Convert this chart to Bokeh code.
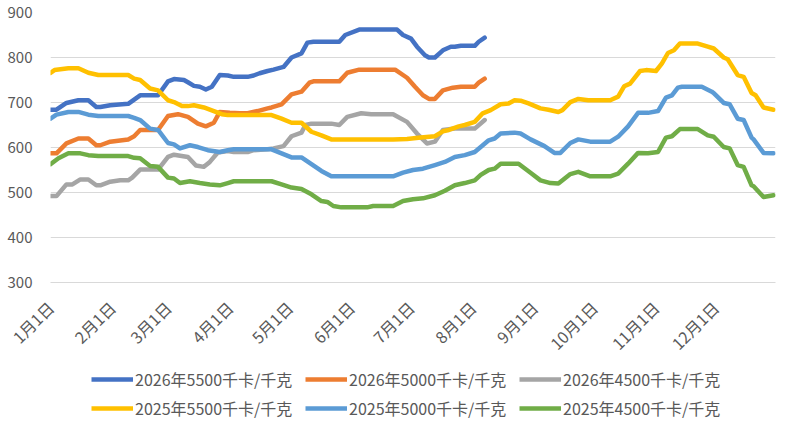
import math
from bokeh.plotting import figure
from bokeh.layouts import column
from bokeh.models import FixedTicker, Legend, LegendItem, Range1d
from bokeh.embed import file_html
from bokeh.resources import INLINE

FONT = "Noto Sans CJK SC"
TEXT_COLOR = "#595959"

# x = day of year (0 = Jan 1)
month_days = [0, 31, 59, 90, 120, 151, 181, 212, 243, 273, 304, 334]
month_labels = ["1月1日", "2月1日", "3月1日", "4月1日", "5月1日", "6月1日",
                "7月1日", "8月1日", "9月1日", "10月1日", "11月1日", "12月1日"]

y_ticks = [300, 400, 500, 600, 700, 800, 900]

names = ["2026年5500千卡/千克", "2026年5000千卡/千克", "2026年4500千卡/千克",
         "2025年5500千卡/千克", "2025年5000千卡/千克", "2025年4500千卡/千克"]
colors = ["#4472C4", "#ED7D31", "#A5A5A5", "#FFC000", "#5B9BD5", "#70AD47"]

d26_5500 = [0, 3, 8, 14, 19, 23, 25, 30, 39, 45, 54, 59, 62, 67, 69, 72, 75, 78, 81, 85, 89, 92, 99, 102,
            105, 109, 112, 117, 121, 126, 129, 132, 145, 148, 155, 172, 174, 177, 181, 184, 188, 190,
            193, 197, 201, 203, 206, 213, 215, 218]
v26_5500 = [684, 684, 699, 705, 705, 690, 690, 694, 697, 716, 716, 747, 752, 750, 745, 737, 735, 729,
            735, 761, 760, 757, 757, 760, 765, 770, 773, 779, 800, 809, 833, 835, 835, 850, 862, 862,
            862, 850, 842, 824, 805, 800, 800, 816, 824, 824, 826, 826, 835, 844]

d26_5000 = [0, 3, 8, 14, 19, 23, 25, 30, 39, 42, 45, 54, 59, 64, 69, 74, 78, 82, 85, 90, 95, 99, 104,
            109, 111, 116, 121, 126, 130, 132, 145, 149, 155, 173, 179, 183, 187, 190, 193, 197, 202,
            206, 213, 215, 218]
v26_5000 = [587, 587, 609, 620, 620, 605, 605, 613, 618, 625, 639, 639, 670, 674, 668, 653, 647, 655,
            679, 677, 676, 676, 681, 687, 689, 696, 718, 724, 744, 747, 747, 766, 773, 773, 755, 735,
            716, 708, 708, 727, 733, 735, 735, 744, 753]

d26_4500 = [0, 3, 8, 11, 15, 19, 23, 25, 30, 35, 39, 41, 45, 54, 59, 62, 69, 73, 77, 80, 84, 89, 92,
            99, 102, 109, 112, 117, 121, 126, 128, 131, 141, 145, 149, 156, 161, 172, 179, 184, 189,
            193, 197, 203, 213, 218]
v26_4500 = [492, 492, 518, 518, 529, 529, 516, 516, 524, 527, 527, 533, 551, 551, 579, 584, 579, 560,
            557, 568, 589, 592, 590, 590, 594, 596, 598, 603, 625, 633, 650, 653, 653, 650, 668, 676,
            674, 674, 657, 631, 609, 613, 639, 642, 642, 661]

d25_5500 = [0, 2, 9, 14, 19, 24, 39, 42, 45, 50, 54, 59, 62, 66, 69, 72, 77, 82, 86, 89, 111, 116,
            121, 126, 131, 136, 141, 172, 179, 186, 193, 197, 200, 205, 208, 213, 217, 221, 226, 230,
            233, 236, 240, 246, 250, 255, 257, 261, 265, 270, 281, 285, 288, 291, 296, 299, 304, 307,
            310, 313, 316, 325, 330, 333, 338, 340, 345, 348, 352, 354, 358, 363]
v25_5500 = [766, 772, 776, 776, 766, 761, 761, 753, 750, 731, 727, 705, 701, 692, 692, 694, 689, 681,
            674, 672, 672, 664, 655, 655, 635, 627, 618, 618, 619, 622, 625, 636, 639, 647, 650, 657,
            676, 683, 696, 698, 705, 704, 698, 687, 684, 679, 683, 701, 708, 705, 705, 713, 736, 742,
            770, 772, 770, 787, 810, 816, 831, 831, 824, 820, 800, 796, 761, 757, 721, 716, 689, 684]

d25_5000 = [0, 3, 9, 14, 19, 24, 39, 42, 45, 50, 54, 59, 62, 65, 70, 74, 79, 85, 89, 92, 111, 116,
            121, 126, 131, 136, 141, 172, 177, 182, 187, 193, 198, 203, 208, 213, 216, 220, 223, 226,
            233, 236, 241, 248, 253, 256, 261, 265, 271, 281, 285, 290, 295, 300, 305, 309, 312, 315,
            317, 327, 332, 333, 338, 341, 345, 348, 352, 353, 358, 363]
v25_5000 = [664, 673, 679, 679, 673, 670, 670, 666, 661, 642, 639, 610, 607, 598, 605, 601, 594, 590,
            594, 596, 596, 587, 578, 578, 563, 548, 536, 536, 544, 550, 553, 561, 568, 579, 583, 590,
            601, 616, 620, 631, 633, 631, 618, 603, 588, 588, 610, 618, 613, 613, 624, 647, 677, 677,
            681, 711, 716, 733, 735, 735, 724, 721, 699, 696, 664, 661, 622, 618, 588, 587]

d25_4500 = [0, 4, 9, 15, 19, 24, 39, 42, 45, 50, 54, 59, 62, 65, 70, 75, 80, 85, 89, 92, 111, 116,
            121, 126, 131, 136, 139, 142, 146, 159, 162, 172, 177, 182, 187, 193, 198, 203, 208, 213,
            216, 220, 223, 226, 235, 241, 246, 251, 255, 261, 265, 271, 281, 285, 290, 295, 300, 305,
            309, 312, 316, 325, 330, 333, 338, 341, 345, 348, 352, 353, 358, 363]
v25_4500 = [563, 576, 587, 587, 583, 581, 581, 577, 576, 559, 557, 533, 531, 521, 525, 521, 518, 516,
            521, 525, 525, 518, 511, 508, 496, 481, 479, 470, 467, 467, 470, 470, 481, 485, 487, 494,
            504, 516, 521, 527, 539, 550, 553, 564, 564, 544, 527, 521, 520, 541, 546, 536, 536, 542,
            564, 588, 587, 590, 622, 625, 641, 641, 627, 624, 601, 598, 561, 557, 516, 514, 490, 494]

series = [(d26_5500, v26_5500), (d26_5000, v26_5000), (d26_4500, v26_4500),
          (d25_5500, v25_5500), (d25_5000, v25_5000), (d25_4500, v25_4500)]

LINE_W = 4.5

# ---------------- main chart ----------------
p = figure(frame_width=725, frame_height=270, output_backend="svg", toolbar_location=None,
           x_range=Range1d(0, 364), y_range=Range1d(300, 900),
           min_border_left=50, min_border_right=12, min_border_top=12, min_border_bottom=84)
p.outline_line_color = None
p.background_fill_color = "white"
p.border_fill_color = "white"

p.xgrid.visible = False
p.ygrid.grid_line_color = "#D9D9D9"
p.ygrid.grid_line_width = 1
p.ygrid.ticker = FixedTicker(ticks=y_ticks)

p.yaxis.ticker = FixedTicker(ticks=y_ticks)
p.yaxis.axis_line_color = None
p.yaxis.major_tick_line_color = None
p.yaxis.minor_tick_line_color = None
p.yaxis.major_tick_out = 0
p.yaxis.major_tick_in = 0
p.yaxis.major_label_standoff = 18
p.yaxis.major_label_text_font = FONT
p.yaxis.major_label_text_font_size = "15px"
p.yaxis.major_label_text_color = TEXT_COLOR

p.xaxis.ticker = FixedTicker(ticks=month_days)
p.xaxis.major_label_overrides = {d: lab for d, lab in zip(month_days, month_labels)}
p.xaxis.major_label_orientation = math.pi / 4
p.xaxis.axis_line_color = "#D9D9D9"
p.xaxis.major_tick_line_color = None
p.xaxis.minor_tick_line_color = None
p.xaxis.major_tick_out = 0
p.xaxis.major_tick_in = 0
p.xaxis.major_label_standoff = 22
p.xaxis.major_label_text_font = FONT
p.xaxis.major_label_text_font_size = "16px"
p.xaxis.major_label_text_color = TEXT_COLOR

for (xs, ys), col in zip(series, colors):
    p.line(xs, ys, line_color=col, line_width=LINE_W, line_join="round", line_cap="round")

# ---------------- legend strip (frame aligned with the chart's frame) ----------------
pl = figure(width=787, height=56, output_backend="svg", toolbar_location=None,
            x_axis_location=None, y_axis_location=None,
            x_range=Range1d(0, 1), y_range=Range1d(0, 1),
            min_border_left=50, min_border_right=12, min_border_top=0, min_border_bottom=0)
pl.outline_line_color = None
pl.xgrid.visible = False
pl.ygrid.visible = False
pl.background_fill_color = "white"
pl.border_fill_color = "white"

# legend-only renderers: their single point lies outside the strip's range, so only the key shows
legend_renderers = [pl.line(x=[-1], y=[-1], line_color=col, line_width=LINE_W) for col in colors]

legend_style = dict(orientation="horizontal",
                    label_text_font=FONT, label_text_font_size="16px", label_text_color=TEXT_COLOR,
                    glyph_width=42, glyph_height=26, label_standoff=2, spacing=3,
                    label_height=26, label_width=167,
                    padding=0, margin=0, border_line_color=None, background_fill_alpha=0)

legend_top = Legend(items=[LegendItem(label=n, renderers=[r])
                           for n, r in zip(names[:3], legend_renderers[:3])],
                    location=(41, 30), **legend_style)
legend_bottom = Legend(items=[LegendItem(label=n, renderers=[r])
                              for n, r in zip(names[3:], legend_renderers[3:])],
                       location=(41, 1), **legend_style)
pl.add_layout(legend_top, "center")
pl.add_layout(legend_bottom, "center")

layout = column(p, pl, spacing=0)
open("out.html", "w").write(file_html(layout, INLINE))
